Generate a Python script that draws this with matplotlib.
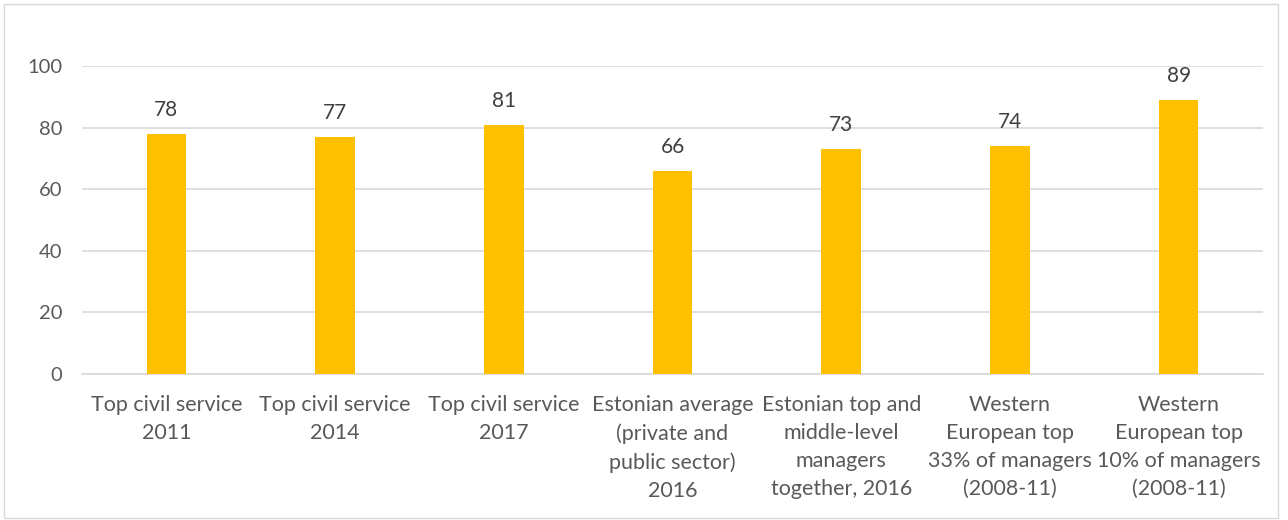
import matplotlib.pyplot as plt
from matplotlib.patches import Rectangle

categories = [
    "Top civil service\n2011",
    "Top civil service\n2014",
    "Top civil service\n2017",
    "Estonian average\n(private and\npublic sector)\n2016",
    "Estonian top and\nmiddle-level\nmanagers\ntogether, 2016",
    "Western\nEuropean top\n33% of managers\n(2008-11)",
    "Western\nEuropean top\n10% of managers\n(2008-11)",
]
values = [78, 77, 81, 66, 73, 74, 89]

plt.rcParams['font.family'] = ['Lato', 'DejaVu Sans']
txt = '#595959'

fig = plt.figure(figsize=(12.88, 5.2), dpi=100)
ax = fig.add_axes([82 / 1288, 1 - 374 / 520, (1263 - 82) / 1288, (374 - 66) / 520])

x = range(len(values))
bars = ax.bar(x, values, width=0.235, color='#FFC000', zorder=3)
for xi, v in zip(x, values):
    ax.text(xi, v + 4.5, str(v), ha='center', va='bottom', fontsize=15, color='#404040')

ax.set_xlim(-0.5, len(values) - 0.5)
ax.set_ylim(0, 100)
ax.set_yticks(range(0, 101, 20))
ax.grid(axis='y', color='#D9D9D9', linewidth=1.2, zorder=0)
ax.set_xticks(list(x))
ax.set_xticklabels(categories, fontsize=15.5, color=txt, linespacing=1.5)
ax.tick_params(axis='y', labelsize=14.5, labelcolor=txt, length=0, pad=14)
ax.tick_params(axis='x', length=0, pad=15)
for s in ['top', 'right', 'left']:
    ax.spines[s].set_visible(False)
ax.spines['bottom'].set_color('#D9D9D9')
ax.spines['bottom'].set_linewidth(1.2)

fig.add_artist(Rectangle((4 / 1288, 2 / 520), 1274 / 1288, 514 / 520, transform=fig.transFigure,
                         fill=False, edgecolor='#D9D9D9', linewidth=1))

fig.savefig('out.png', dpi=100)
